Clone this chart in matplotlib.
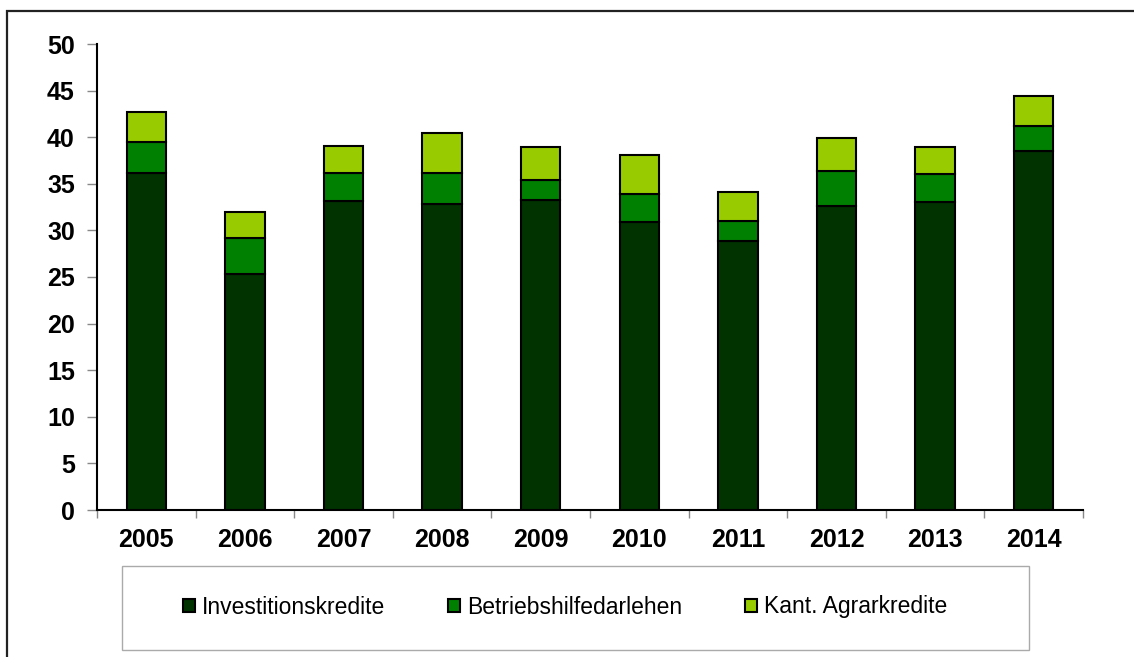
import matplotlib
matplotlib.use("Agg")
import matplotlib.pyplot as plt
from matplotlib.patches import Rectangle
import numpy as np

years = ["2005", "2006", "2007", "2008", "2009", "2010", "2011", "2012", "2013", "2014"]
investitionskredite = [36.2, 25.3, 33.2, 32.8, 33.3, 30.9, 28.9, 32.6, 33.1, 38.5]
betriebshilfedarlehen = [3.3, 3.9, 3.0, 3.4, 2.1, 3.0, 2.1, 3.8, 2.9, 2.7]
kant_agrarkredite = [3.2, 2.8, 2.9, 4.3, 3.5, 4.2, 3.1, 3.5, 3.0, 3.2]

series_names = ["Investitionskredite", "Betriebshilfedarlehen", "Kant. Agrarkredite"]
colors = ["#003300", "#008000", "#99CC00"]
y_ticks = list(range(0, 51, 5))

plt.rcParams["font.family"] = ["Liberation Sans", "DejaVu Sans"]

W, H = 1134, 657
fig = plt.figure(figsize=(W / 100, H / 100), dpi=100)

# outer frame of the chart area
fig.patches.append(Rectangle((7 / W, -0.1), 1.2, (H - 11) / H + 0.1,
                             transform=fig.transFigure, fill=False,
                             edgecolor="#222222", linewidth=1.6, zorder=0))

ax = fig.add_axes([97 / W, (H - 510) / H, (1083 - 97) / W, (510 - 44) / H])

x = np.arange(len(years))
bottom = np.zeros(len(years))
handles = []
for vals, name, col in zip([investitionskredite, betriebshilfedarlehen, kant_agrarkredite],
                           series_names, colors):
    b = ax.bar(x, vals, width=0.4, bottom=bottom, color=col, edgecolor="black",
               linewidth=1.5, label=name, zorder=3)
    handles.append(b)
    bottom += np.array(vals)

ax.set_xlim(-0.5, len(years) - 0.5)
ax.set_ylim(0, 50)
ax.set_yticks(y_ticks)
ax.set_yticklabels([str(v) for v in y_ticks], fontsize=18, fontweight="bold")
ax.set_xticks(x)
ax.set_xticklabels(years, fontsize=18, fontweight="bold")
ax.set_xticks(np.arange(-0.5, len(years)), minor=True)

ax.tick_params(axis="y", direction="out", length=7, width=1, color="#888888", pad=9)
ax.tick_params(axis="x", which="major", length=0, pad=13)
ax.tick_params(axis="x", which="minor", direction="out", length=6, width=1, color="#888888")

for s in ["top", "right"]:
    ax.spines[s].set_visible(False)
for s in ["left", "bottom"]:
    ax.spines[s].set_color("black")
    ax.spines[s].set_linewidth(1.5)

# legend box
fig.patches.append(Rectangle((122 / W, (H - 650) / H), (1029 - 122) / W, (650 - 566) / H,
                             transform=fig.transFigure, fill=False,
                             edgecolor="#aaaaaa", linewidth=1.0))
fig.legend(handles=handles, labels=series_names, loc="center",
           bbox_to_anchor=(565 / W, (H - 607) / H), ncol=3, frameon=False,
           fontsize=16.5, handlelength=0.52, handleheight=0.52, handletextpad=0.3,
           columnspacing=2.75)

fig.savefig("out.png", dpi=100)
